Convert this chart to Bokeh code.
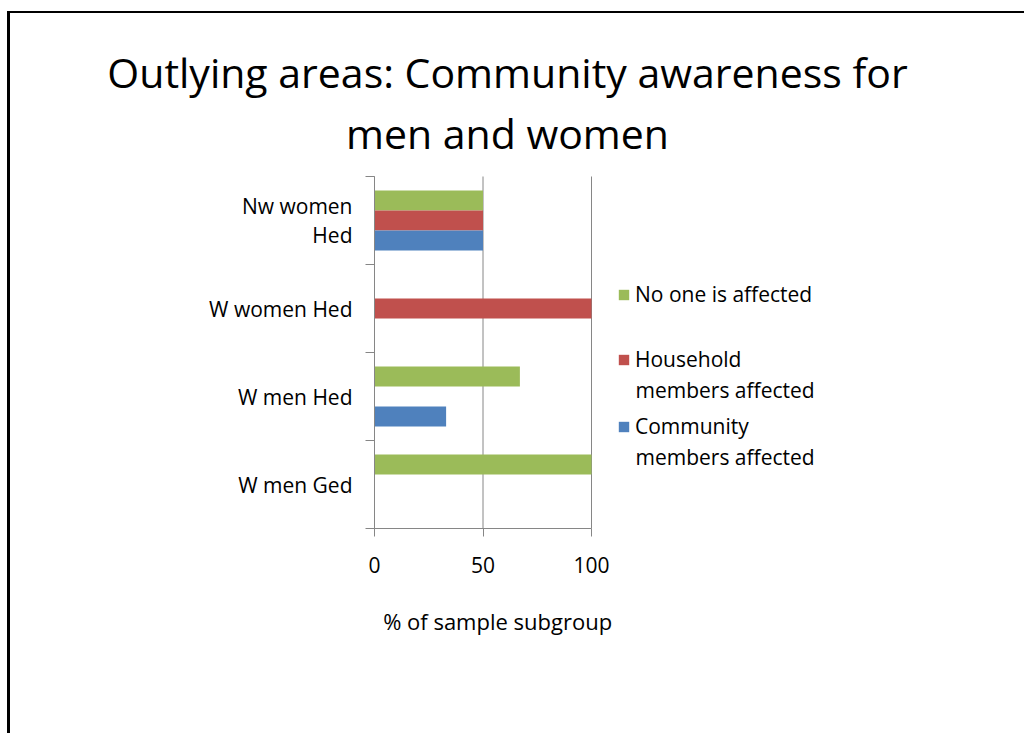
from bokeh.plotting import figure
from bokeh.models import (Range1d, LinearAxis, FixedTicker, Legend, LegendItem,
                          Label, ColumnDataSource, InlineStyleSheet)
from bokeh.transform import dodge
from bokeh.core.properties import value
from bokeh.embed import file_html
from bokeh.resources import INLINE

# ---------------- data ----------------
title_lines = ["Outlying areas: Community awareness for", "men and women"]
categories = ["W men Ged", "W men Hed", "W women Hed", "Nw women Hed"]   # bottom -> top
category_labels = ["W men Ged", "W men Hed", "W women Hed", "Nw women\nHed"]
series_first_lines = ["No one is affected", "Household", "Community"]
series_second_lines = ["", "members affected", "members affected"]
no_one = [100, 67, 0, 50]
household = [0, 0, 100, 50]
community = [0, 33, 0, 50]
colors = ["#9BBB59", "#C0504D", "#4F81BD"]
x_ticks = [0, 50, 100]
x_label = "% of sample  subgroup"

# ---------------- layout / styling ----------------
FONT = "Open Sans"
GRAY = "#868686"
W, H = 1008, 733
FL, FR, FT, FB = 20, 998, 10, 653          # plot frame on the canvas (px)
X0_PX, X100_PX = 374, 591                   # where 0 and 100 % fall
Y0_PX, SLOT_PX = 528, 88                    # bottom of category area, px per category
xs = (X100_PX - X0_PX) / 100.0
n = len(categories)

p = figure(width=W, height=H, title=None,
           x_range=Range1d((FL - X0_PX) / xs, (FR - X0_PX) / xs),
           y_range=Range1d((Y0_PX - FB) / SLOT_PX, (Y0_PX - FT) / SLOT_PX),
           output_backend="svg", toolbar_location=None, y_axis_location=None,
           min_border_left=FL, min_border_right=W - FR,
           min_border_top=FT, min_border_bottom=H - FB,
           background_fill_color="white", border_fill_color="white",
           outline_line_color=None)
p.xgrid.visible = False
p.ygrid.visible = False

pos = [i + 0.5 for i in range(n)]           # category slot centres
src = ColumnDataSource(dict(cat=categories, label=category_labels, pos=pos,
                            no_one=no_one, household=household, community=community))

# vertical grid lines at the x ticks, spanning the category area
p.segment(x0=x_ticks, y0=[0] * len(x_ticks), x1=x_ticks, y1=[n] * len(x_ticks),
          line_color=GRAY, line_width=1)

bh = 0.227
r1 = p.hbar(y=dodge("pos", bh), left=0, right="no_one", height=bh,
            source=src, fill_color=colors[0], line_color=None)
r2 = p.hbar(y=dodge("pos", 0), left=0, right="household", height=bh,
            source=src, fill_color=colors[1], line_color=None)
r3 = p.hbar(y=dodge("pos", -bh), left=0, right="community", height=bh,
            source=src, fill_color=colors[2], line_color=None)

# category labels
p.text(x=0, y="pos", text="label", source=src, x_offset=-22,
       text_align="right", text_baseline="middle", text_font=value(FONT),
       text_font_size="21px", text_color="black", text_line_height=1.05)

# x axis, pinned at y = 0
xa = p.xaxis[0]
xa.fixed_location = 0
xa.bounds = (x_ticks[0], x_ticks[-1])
xa.ticker = FixedTicker(ticks=x_ticks)
xa.axis_line_color = GRAY
xa.major_tick_line_color = GRAY
xa.major_tick_out = 8
xa.major_tick_in = 0
xa.minor_tick_out = 0
xa.minor_tick_in = 0
xa.major_label_standoff = 20
xa.major_label_text_font = FONT
xa.major_label_text_font_size = "21px"
xa.major_label_text_color = "black"

# y axis pinned at x = 0, ticks at category boundaries
ya = LinearAxis(fixed_location=0, bounds=(0, n),
                ticker=FixedTicker(ticks=[], minor_ticks=list(range(n + 1))),
                axis_line_color=GRAY, major_tick_out=0, major_tick_in=0,
                minor_tick_out=9, minor_tick_in=0, minor_tick_line_color=GRAY,
                major_label_text_font_size="0px")
p.add_layout(ya, "left")

# legend: one entry per series, placed like the reference (swatch on the first line)
first_line_px = [294, 359, 426]
LINE_PX = 30
for r, first, second, cy in zip([r1, r2, r3], series_first_lines,
                                series_second_lines, first_line_px):
    p.add_layout(Legend(items=[LegendItem(label=first, renderers=[r])],
                        location=(617 - FL, FB - (cy + 14)), padding=0, margin=0,
                        spacing=0, glyph_width=13, glyph_height=13, label_standoff=5,
                        label_text_font=FONT, label_text_font_size="21px",
                        label_text_color="black", label_text_baseline="middle",
                        border_line_color=None, background_fill_alpha=0))
    if second:
        p.add_layout(Label(x=635 - FL, y=FB - (cy + LINE_PX), x_units="screen",
                           y_units="screen", text=second, text_align="left",
                           text_baseline="middle", text_font=FONT,
                           text_font_size="21px", text_color="black"))

# title and x-axis caption
for line, mid_px in zip(title_lines, [71, 132]):
    p.add_layout(Label(x=507 - FL, y=FB - mid_px, x_units="screen", y_units="screen",
                       text=line, text_align="center", text_baseline="middle",
                       text_font=FONT, text_font_size="41px", text_color="black"))
p.add_layout(Label(x=500 - FL, y=FB - 620, x_units="screen", y_units="screen",
                   text=x_label, text_align="center", text_baseline="middle",
                   text_font=FONT, text_font_size="22px", text_color="black"))

# outer frame line (left and top edges only fall inside the window)
p.stylesheets = [InlineStyleSheet(css=(
    ":host::before { content: ''; position: absolute; left: 7px; top: 11px; "
    "right: -16px; bottom: 0; border-left: 3px solid black; border-top: 2px solid black; "
    "pointer-events: none; z-index: 10; }"))]

open("out.html", "w").write(file_html(p, INLINE))
